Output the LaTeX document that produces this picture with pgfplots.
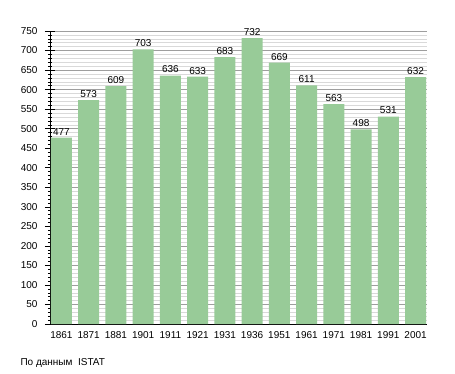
\documentclass[border=0pt]{standalone}
\usepackage{pgfplots}
\pgfplotsset{compat=1.18}
\usepackage{fontspec}
\setmainfont{Liberation Sans}
\definecolor{bargreen}{RGB}{152,203,152}
\begin{document}
\begin{tikzpicture}[x=1pt,y=1pt]
\useasboundingbox (0,0) rectangle (455,373);
\begin{axis}[
  at={(50pt,49pt)}, anchor=south west,
  scale only axis, width=377pt, height=293pt,
  xmin=-0.42, xmax=13.42, ymin=0, ymax=750,
  axis x line*=bottom, axis y line*=left,
  xtick=data,
  xticklabels={1861,1871,1881,1901,1911,1921,1931,1936,1951,1961,1971,1981,1991,2001},
  x tick style={draw=none},
  ytick={0,50,...,750},
  minor y tick num=4,
  tick align=center,
  major tick length=10pt, minor tick length=4pt,
  ymajorgrids, yminorgrids,
  major grid style={draw=black!38, line width=0.5pt},
  minor grid style={draw=black!15, line width=0.5pt},
  tick style={black, line width=0.5pt},
  axis line style={black, line width=0.8pt},
  tick label style={font=\fontsize{10}{12}\selectfont},
  xticklabel style={yshift=1pt},
  yticklabel style={xshift=-4pt},
  /pgf/number format/assume math mode=true,
  /pgf/number format/1000 sep={},
  clip=false,
]
\addplot[ybar, bar width=21pt, fill=bargreen, draw=none,
  nodes near coords,
  every node near coord/.append style={font=\fontsize{10}{12}\selectfont, yshift=-1pt}]
 coordinates {(0,477) (1,573) (2,609) (3,703) (4,636) (5,633) (6,683) (7,732) (8,669) (9,611) (10,563) (11,498) (12,531) (13,632)};
\end{axis}
\node[anchor=west, font=\fontsize{10}{12}\selectfont] at (17,10) {По данным\ \ ISTAT};
\end{tikzpicture}
\end{document}
